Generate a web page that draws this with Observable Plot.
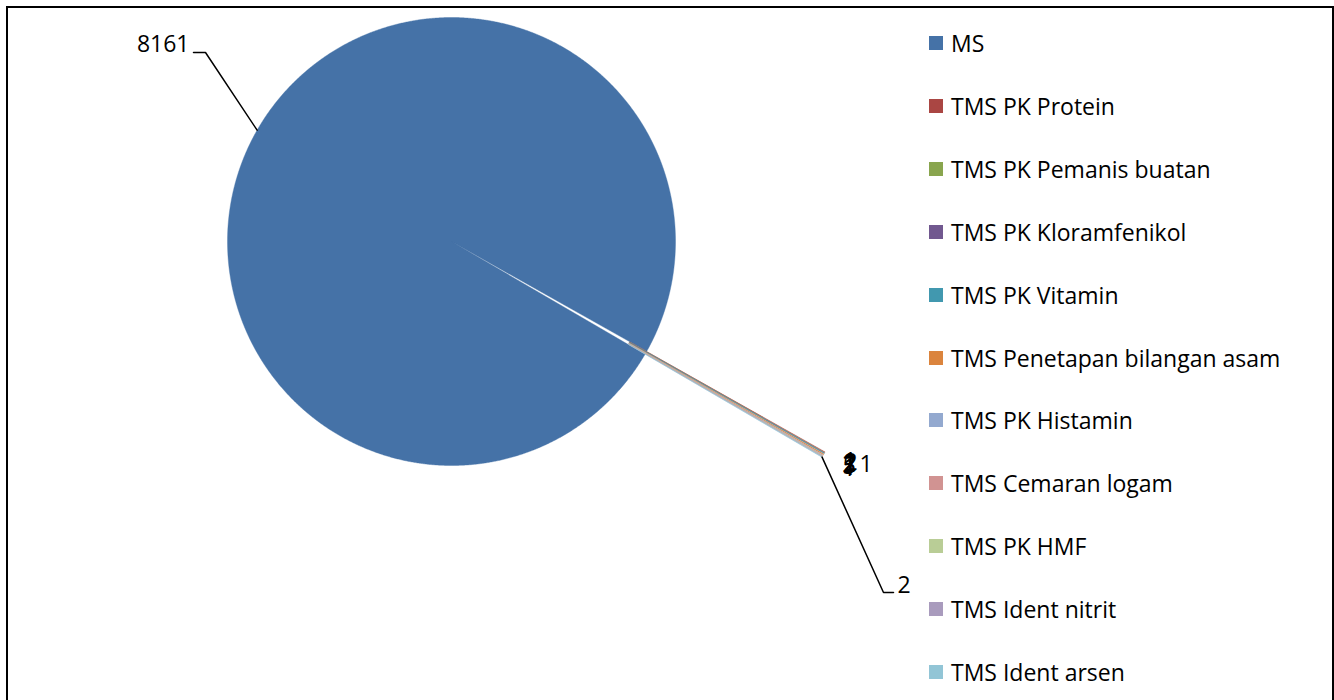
<!DOCTYPE html>
<html>
<head>
<meta charset="utf-8">
<script src="https://cdn.jsdelivr.net/npm/d3@7"></script>
<script src="https://cdn.jsdelivr.net/npm/@observablehq/plot@0.6"></script>
<style>
  html, body { margin: 0; padding: 0; background: #fff; overflow: hidden; }
  body { width: 1334px; height: 700px; position: relative; font-family: "Open Sans", sans-serif; }
  #frame { position: absolute; left: 6px; top: 6px; width: 1328px; height: 760px; box-sizing: border-box; border: 2px solid #000; }
  #chart { position: absolute; left: 0; top: 0; }
  #legend { position: absolute; left: 929px; top: 0; }
  .item { position: absolute; left: 0; white-space: nowrap; display: flex; align-items: center; height: 28px; font-size: 23px; color: #000; }
  .sw { width: 14px; height: 14px; margin-right: 8px; flex: none; }
</style>
</head>
<body>
<div id="frame"></div>
<div id="chart"></div>
<div id="legend"></div>
<script>
// ---- data ----
const categories = [
  "MS",
  "TMS PK Protein",
  "TMS PK Pemanis buatan",
  "TMS PK Kloramfenikol",
  "TMS PK Vitamin",
  "TMS Penetapan bilangan asam",
  "TMS PK Histamin",
  "TMS Cemaran logam",
  "TMS PK HMF",
  "TMS Ident nitrit",
  "TMS Ident arsen"
];
const values = [8161, 3, 1, 1, 2, 5, 1, 2, 1, 2, 2];
const colors = [
  "#4572A7", "#AA4643", "#89A54E", "#71588F", "#4198AF", "#DB843D",
  "#93A9CF", "#D19392", "#B9CD96", "#A99BBD", "#92C5D6"
];

// ---- layout ----
const W = 1334, H = 700;
const CX = 451, CY = 241, R = 224;          // pie centre / radius (pixels)
const firstSliceAngle = 120.24;             // degrees, clockwise from 12 o'clock
const explodeSmall = 0.914;                 // explosion of the small slices (fraction of radius)
const u = (px, py) => ({x: (px - CX) / R, y: (py - CY) / R});

const data = categories.map((c, i) => ({key: c, value: values[i], color: colors[i]}));
const a0 = firstSliceAngle * Math.PI / 180;
const arcs = d3.pie().sort(null).value(d => d.value).startAngle(a0).endAngle(a0 + 2 * Math.PI)(data);

// slice polygons
const pts = [];
arcs.forEach((a, i) => {
  const mid = (a.startAngle + a.endAngle) / 2;
  const e = i === 0 ? 0 : explodeSmall;
  const ox = Math.sin(mid) * e, oy = -Math.cos(mid) * e;
  const n = Math.max(2, Math.ceil((a.endAngle - a.startAngle) / (Math.PI / 720)));
  pts.push({key: a.data.key, x: ox, y: oy});
  for (let k = 0; k <= n; k++) {
    const t = a.startAngle + (a.endAngle - a.startAngle) * k / n;
    pts.push({key: a.data.key, x: ox + Math.sin(t), y: oy - Math.cos(t)});
  }
  pts.push({key: a.data.key, x: ox, y: oy});
  a.mid = mid; a.ox = ox; a.oy = oy;
});

// leader for the big slice label
const big = arcs[0];
const bigEdge = {x: Math.sin(big.mid), y: -Math.cos(big.mid)};
const bigLeader = [bigEdge, u(205, 52), u(193, 52)];
const bigLabel = [{...u(189, 44), text: String(big.data.value)}];

// small-slice labels (Excel overlaps them near the exploded tip)
const last = arcs[arcs.length - 1];
const tip = {x: last.ox + Math.sin(last.mid), y: last.oy - Math.cos(last.mid)};
const smallLeader = [tip, u(883, 592), u(893, 592)];
const smallLabelPos = [[842, 465], [843, 461], [842, 468], [843, 463], [842, 466], [859, 464], [844, 462], [843, 467], [842, 464]];
const smallLabels = arcs.slice(1, -1).map((a, i) => ({...u(...smallLabelPos[i]), text: String(a.data.value)}));
smallLabels.push({...u(897, 585), text: String(last.data.value)});

const chart = Plot.plot({
  width: W, height: H, margin: 0,
  style: {background: "transparent", fontFamily: "'Open Sans', sans-serif"},
  x: {domain: [(0 - CX) / R, (W - CX) / R], range: [0, W], axis: null},
  y: {domain: [(0 - CY) / R, (H - CY) / R], range: [0, H], axis: null},
  color: {domain: categories, range: colors},
  marks: [
    Plot.line(pts, {x: "x", y: "y", z: "key", fill: "key", stroke: "key", strokeWidth: 0.4, curve: "linear"}),
    Plot.line(bigLeader, {x: "x", y: "y", stroke: "#000", strokeWidth: 1.5}),
    Plot.line(smallLeader, {x: "x", y: "y", stroke: "#000", strokeWidth: 1.5}),
    Plot.text(bigLabel, {x: "x", y: "y", text: "text", textAnchor: "end", fontSize: 23, fill: "#000"}),
    Plot.text(smallLabels, {x: "x", y: "y", text: "text", textAnchor: "start", fontSize: 23, fill: "#000"})
  ]
});
document.getElementById("chart").append(chart);

// legend
const legend = document.getElementById("legend");
const legendTop = 43, legendStep = 62.9;
categories.forEach((c, i) => {
  const it = document.createElement("div");
  it.className = "item";
  it.style.top = (legendTop + i * legendStep - 14) + "px";
  const sw = document.createElement("span");
  sw.className = "sw";
  sw.style.background = colors[i];
  const tx = document.createElement("span");
  tx.textContent = c;
  it.append(sw, tx);
  legend.append(it);
});
</script>
</body>
</html>
